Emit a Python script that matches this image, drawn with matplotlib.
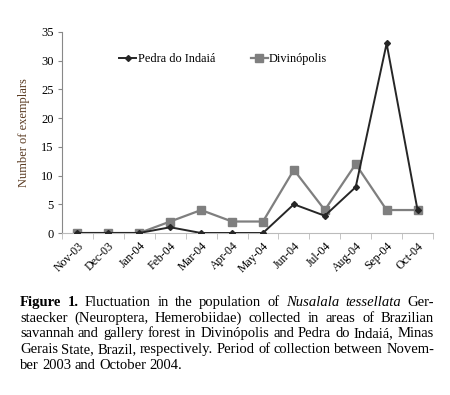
import matplotlib

matplotlib.use("Agg")
import matplotlib.pyplot as plt
import numpy as np

months = ["Nov-03", "Dec-03", "Jan-04", "Feb-04", "Mar-04", "Apr-04",
          "May-04", "Jun-04", "Jul-04", "Aug-04", "Sep-04", "Oct-04"]
pedra = [0, 0, 0, 1, 0, 0, 0, 5, 3, 8, 33, 4]
divinopolis = [0, 0, 0, 2, 4, 2, 2, 11, 4, 12, 4, 4]

caption_lines = [
    [("Figure", "bold"), ("1.", "bold"), ("Fluctuation", ""), ("in", ""), ("the", ""),
     ("population", ""), ("of", ""), ("Nusalala", "italic"), ("tessellata", "italic"), ("Ger-", "")],
    [(w, "") for w in "staecker (Neuroptera, Hemerobiidae) collected in areas of Brazilian".split()],
    [(w, "") for w in "savannah and gallery forest in Divinópolis and Pedra do Indaiá, Minas".split()],
    [(w, "") for w in "Gerais State, Brazil, respectively. Period of collection between Novem-".split()],
    [(w, "") for w in "ber 2003 and October 2004.".split()],
]

plt.rcParams["font.family"] = ["Liberation Serif", "DejaVu Serif"]

fig = plt.figure(figsize=(4.5, 3.95), dpi=100)
ax = fig.add_axes([62 / 450, 1 - 233 / 395, 371 / 450, 201 / 395])

x = np.arange(len(months))
ax.plot(x, divinopolis, color="#7f7f7f", lw=1.6, marker="s", ms=5.5,
        label="Divinópolis", zorder=2)
ax.plot(x, pedra, color="#262626", lw=1.4, marker="D", ms=3,
        label="Pedra do Indaiá", zorder=3)

ax.set_xlim(-0.5, len(months) - 0.5)
ax.set_ylim(0, 35)
ax.set_yticks(range(0, 36, 5))
ax.set_xticks(x)
ax.set_xticklabels(months, rotation=45, ha="right", rotation_mode="anchor", fontsize=8.5)
ax.set_xticks(np.arange(-0.5, len(months)), minor=True)
ax.tick_params(axis="x", which="major", length=0, pad=5)
ax.tick_params(axis="x", which="minor", length=4, color="#bbbbbb", direction="out")
ax.tick_params(axis="y", length=3, color="#888888", labelsize=9, pad=3)
for side in ("top", "right"):
    ax.spines[side].set_visible(False)
ax.spines["left"].set_color("#888888")
ax.spines["bottom"].set_color("#bbbbbb")
ax.set_ylabel("Number of exemplars", fontsize=9, color="#5a3b22", labelpad=8)

handles, labels = ax.get_legend_handles_labels()
ax.legend(handles[::-1], labels[::-1], ncol=2, loc="upper left",
          bbox_to_anchor=(0.125, 0.95), frameon=False, fontsize=8.8,
          handlelength=1.4, handletextpad=0.1, columnspacing=2.9)

# justified caption
renderer = fig.canvas.get_renderer()
left, right = 20, 434
y0, dy = 302, 15.7
for i, line in enumerate(caption_lines):
    texts = []
    for word, style in line:
        kw = {"fontsize": 10.5}
        if style == "bold":
            kw["fontweight"] = "bold"
        if style == "italic":
            kw["fontstyle"] = "italic"
        t = fig.text(0, 0, word, va="baseline", ha="left", **kw)
        texts.append(t)
    widths = [t.get_window_extent(renderer).width for t in texts]
    if i < len(caption_lines) - 1:
        gap = (right - left - sum(widths)) / (len(texts) - 1)
    else:
        gap = 3.4
    xpos = left
    ypix = 395 - (y0 + 4 + i * dy)
    for t, w in zip(texts, widths):
        t.set_position((xpos / 450, ypix / 395))
        xpos += w + gap

fig.savefig("out.png", dpi=100)
